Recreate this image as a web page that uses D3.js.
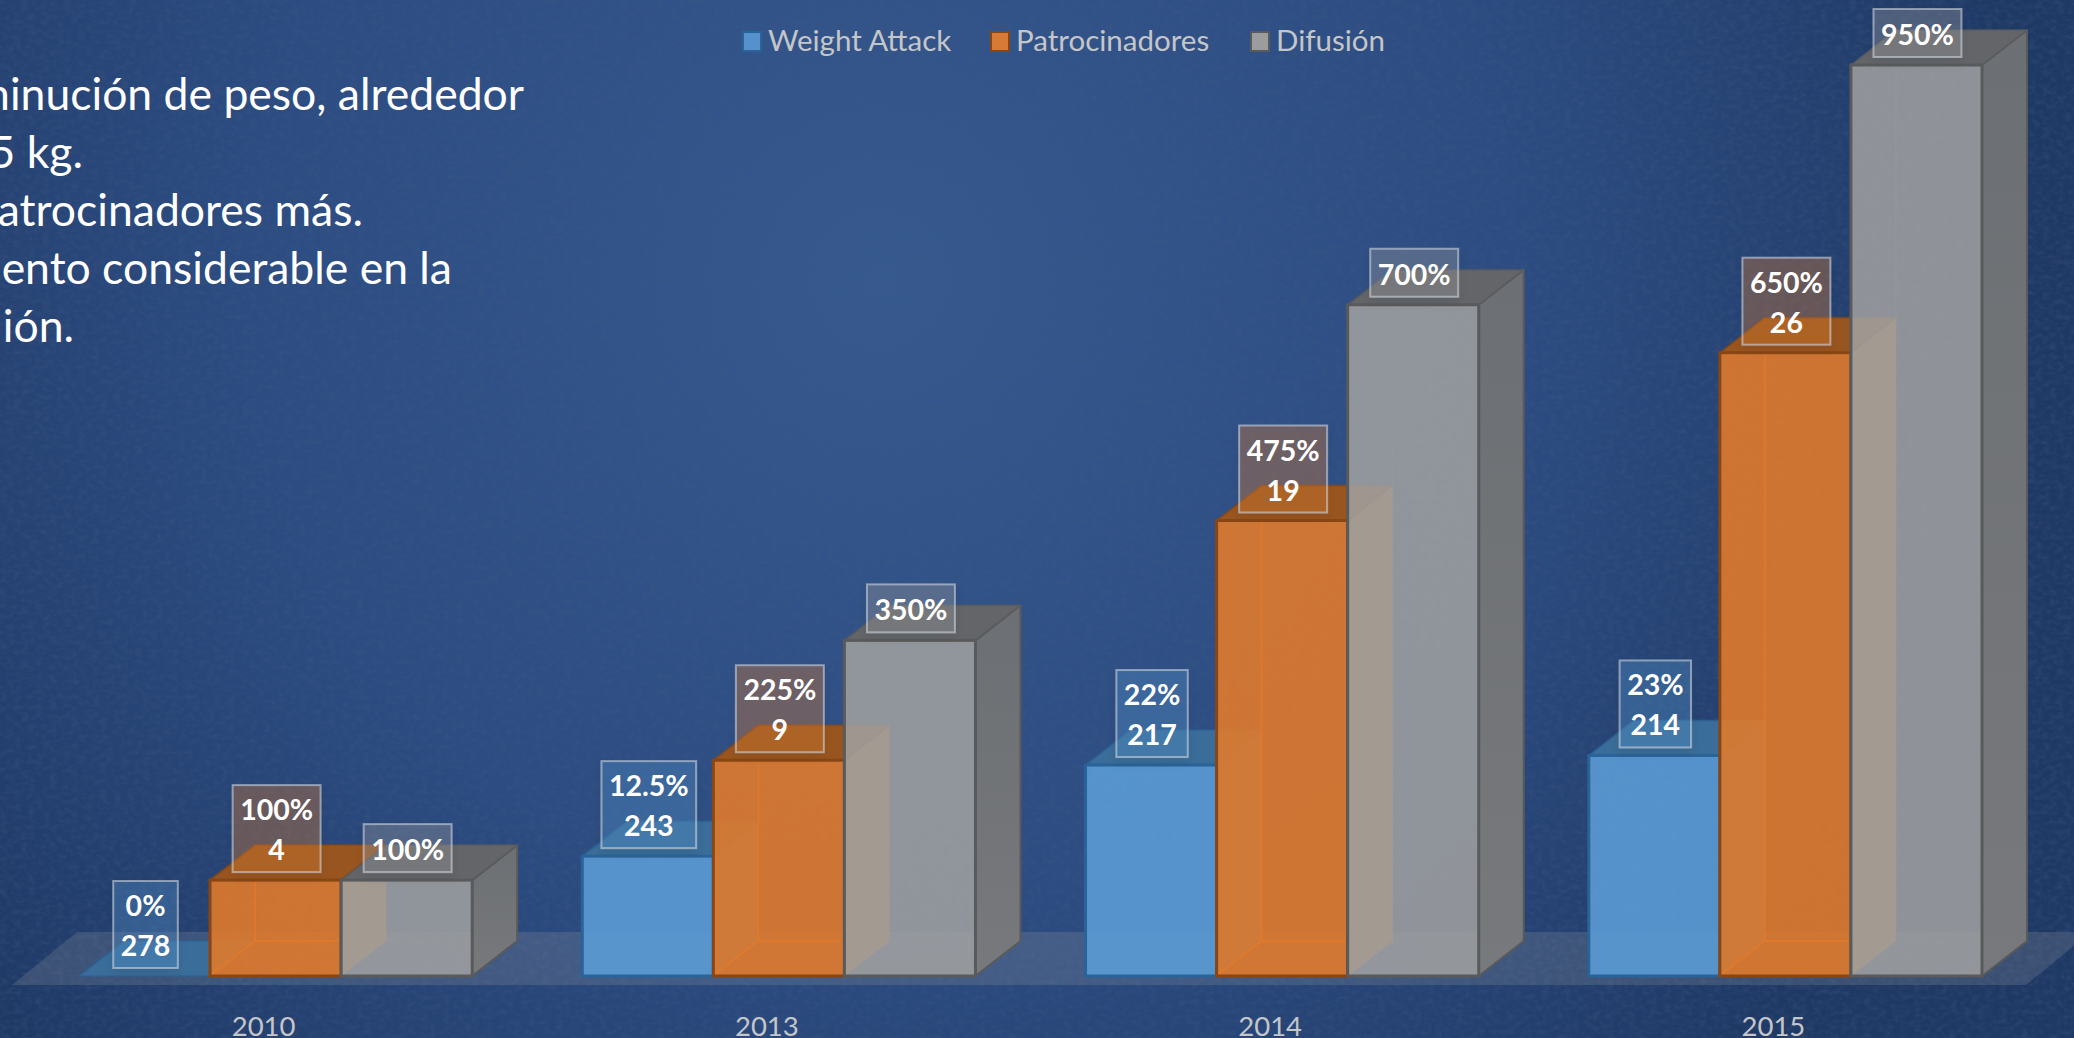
<!DOCTYPE html>
<html>
<head>
<meta charset="utf-8">
<script src="https://cdn.jsdelivr.net/npm/d3@7"></script>
<style>
  html, body { margin: 0; padding: 0; background: #1f3864; overflow: hidden; }
  svg { display: block; font-family: Lato, sans-serif; }
</style>
</head>
<body>
<div id="chart"></div>
<script>
const years = ['2010', '2013', '2014', '2015'];
const seriesNames = ['Weight Attack', 'Patrocinadores', 'Difusión'];

const weightPct = [0, 12.5, 22, 23];
const weightKg = [278, 243, 217, 214];
const sponsorPct = [100, 225, 475, 650];
const sponsorCount = [4, 9, 19, 26];
const reachPct = [100, 350, 700, 950];

const noteLines = [
    'minución de peso, alrededor',
    '5 kg.',
    'atrocinadores más.',
    'ento considerable en la',
    'ión.'
];

const width = 2074, height = 1038;
const depthX = 45, depthY = 35;

const svg = d3.select('#chart').append('svg')
    .attr('width', width)
    .attr('height', height);

const defs = svg.append('defs');

const bgGrad = defs.append('radialGradient')
    .attr('id', 'bg-grad')
    .attr('gradientUnits', 'userSpaceOnUse')
    .attr('cx', 880).attr('cy', 280).attr('r', 1150);
bgGrad.append('stop').attr('offset', '0%').attr('stop-color', '#36598f');
bgGrad.append('stop').attr('offset', '55%').attr('stop-color', '#2c4c82');
bgGrad.append('stop').attr('offset', '100%').attr('stop-color', '#1f3965');

const grain = defs.append('filter').attr('id', 'grain')
    .attr('x', 0).attr('y', 0).attr('width', '100%').attr('height', '100%');
grain.append('feTurbulence')
    .attr('type', 'fractalNoise')
    .attr('baseFrequency', '0.14 0.2')
    .attr('numOctaves', 3)
    .attr('seed', 4);
grain.append('feColorMatrix')
    .attr('values', '0 0 0 0 0.05  0 0 0 0 0.1  0 0 0 0 0.22  1.6 0 0 0 -0.62');

const boxShadow = defs.append('filter').attr('id', 'box-shadow')
    .attr('x', '-30%').attr('y', '-30%').attr('width', '160%').attr('height', '160%');
boxShadow.append('feDropShadow')
    .attr('dx', 0).attr('dy', 5).attr('stdDeviation', 5)
    .attr('flood-color', '#000').attr('flood-opacity', 0.16);

const sideGrad = defs.append('linearGradient')
    .attr('id', 'side-grad').attr('x1', 0).attr('y1', 0).attr('x2', 0).attr('y2', 1);
sideGrad.append('stop').attr('offset', '0%').attr('stop-color', '#6c6f73');
sideGrad.append('stop').attr('offset', '100%').attr('stop-color', '#77797c');

svg.append('rect').attr('width', width).attr('height', height).attr('fill', 'url(#bg-grad)');
svg.append('rect').attr('width', width).attr('height', height)
    .attr('filter', 'url(#grain)').attr('opacity', 0.45);

// scales
const x = d3.scaleBand().domain(years).range([79, 1982]).paddingInner(0.2187);
const xInner = d3.scaleBand().domain(seriesNames).range([0, x.bandwidth()]);
const y = d3.scaleLinear().domain([0, 950]).range([976, 65]);
const yWeight = d3.scaleLinear().domain([0, 95]).range([976, 65]);

const styles = {
    'Weight Attack': { fill: '#5b9bd5', stroke: '#2a6398', side: '#3f78ac', top: '#3a6d99', back: '#5b9bd5', backOpacity: 0.1, mark: '#5592cc' },
    'Patrocinadores': { fill: '#e07a2c', stroke: '#8a4612', side: '#b9733c', top: '#99551f', back: '#e87b28', backOpacity: 0.55, mark: '#d67a36' },
    'Difusión': { fill: '#a0a0a0', stroke: '#595a5b', side: 'url(#side-grad)', top: '#636568', back: '#a8a39c', backOpacity: 0.15, mark: '#9a9c9e' }
};

const bars = [];
years.forEach((year, i) => {
    bars.push({ year, name: seriesNames[0], top: yWeight(weightPct[i]), lines: [weightPct[i] + '%', String(weightKg[i])] });
    bars.push({ year, name: seriesNames[1], top: y(sponsorPct[i]), lines: [sponsorPct[i] + '%', String(sponsorCount[i])] });
    bars.push({ year, name: seriesNames[2], top: y(reachPct[i]), lines: [reachPct[i] + '%'] });
});

const poly = d3.line();

// floor
const floorY = y(0);
svg.append('path')
    .attr('d', poly([[12, floorY + 9], [2026, floorY + 9], [2026 + 65, floorY - 44], [77, floorY - 44]]) + 'Z')
    .attr('fill', '#a8a8a8')
    .attr('fill-opacity', 0.2);

const barG = svg.append('g').selectAll('g')
    .data(bars)
    .join('g');

barG.each(function (d) {
    const g = d3.select(this);
    const s = styles[d.name];
    const x0 = x(d.year) + xInner(d.name);
    const x1 = x0 + xInner.bandwidth();
    const base = y(0);
    const top = d.top;

    // right side
    g.append('path')
        .attr('d', poly([[x1, base], [x1 + depthX, base - depthY], [x1 + depthX, top - depthY], [x1, top]]) + 'Z')
        .attr('fill', s.side)
        .attr('stroke', d.name === 'Difusión' ? s.stroke : 'none')
        .attr('stroke-width', 2)
        .attr('stroke-linejoin', 'round');

    // top
    g.append('path')
        .attr('d', poly([[x0, top], [x1, top], [x1 + depthX, top - depthY], [x0 + depthX, top - depthY]]) + 'Z')
        .attr('fill', s.top)
        .attr('stroke', s.stroke)
        .attr('stroke-opacity', 0.6)
        .attr('stroke-width', 2)
        .attr('stroke-linejoin', 'round');

    // front
    g.append('rect')
        .attr('x', x0)
        .attr('y', top)
        .attr('width', x1 - x0)
        .attr('height', base - top)
        .attr('fill', s.fill)
        .attr('fill-opacity', d.name === 'Difusión' ? 0.87 : 0.9)
        .attr('stroke', s.stroke)
        .attr('stroke-width', 3);

    // back edges seen through the front, only where the front covers them
    if (top < base - depthY) {
        g.append('path')
            .attr('d', poly([[x0 + 2, base - 2], [x0 + depthX, base - depthY], [x0 + depthX, top + 2]]))
            .attr('fill', 'none')
            .attr('stroke', s.back)
            .attr('stroke-opacity', s.backOpacity)
            .attr('stroke-width', 2);
        g.append('path')
            .attr('d', poly([[x0 + depthX, base - depthY], [x1 - 2, base - depthY]]))
            .attr('fill', 'none')
            .attr('stroke', s.back)
            .attr('stroke-opacity', s.backOpacity)
            .attr('stroke-width', 2);
    }
});

// data labels
const labelG = svg.append('g').selectAll('g')
    .data(bars)
    .join('g')
    .attr('transform', d => `translate(${x(d.year) + xInner(d.name) + xInner.bandwidth() / 2 + 1},${d.top - 8})`);

labelG.each(function (d) {
    const g = d3.select(this);
    const boxH = d.lines.length === 2 ? 87 : 48;
    const rect = g.append('rect');
    const texts = g.selectAll('text')
        .data(d.lines)
        .join('text')
        .attr('text-anchor', 'middle')
        .attr('y', (t, i) => -12 - (d.lines.length - 1 - i) * 40)
        .attr('font-size', 28.5)
        .attr('font-weight', 700)
        .attr('fill', '#fff')
        .text(t => t);
    let w = 0;
    texts.each(function () { w = Math.max(w, this.getComputedTextLength()); });
    rect.attr('x', -(w + 15) / 2)
        .attr('y', -boxH)
        .attr('width', w + 15)
        .attr('height', boxH)
        .attr('fill', styles[d.name].mark)
        .attr('fill-opacity', 0.35)
        .attr('stroke', '#ccd3dd')
        .attr('stroke-opacity', 0.6)
        .attr('stroke-width', 2)
        .attr('filter', 'url(#box-shadow)');
});

// year axis
const axis = svg.append('g')
    .attr('transform', 'translate(-12,1000)')
    .call(d3.axisBottom(x).tickSize(0).tickPadding(16));
axis.select('.domain').remove();
axis.selectAll('text')
    .attr('font-size', 27.5)
    .attr('font-family', 'Lato, sans-serif')
    .attr('fill', '#c4c6c9');

// legend
const legendX = d3.scaleOrdinal().domain(seriesNames).range([743, 991, 1251]);
const legend = svg.append('g').selectAll('g')
    .data(seriesNames)
    .join('g')
    .attr('transform', d => `translate(${legendX(d)},32)`);
legend.append('rect')
    .attr('width', 18)
    .attr('height', 19)
    .attr('fill', d => styles[d].mark)
    .attr('stroke', d => styles[d].stroke)
    .attr('stroke-width', 2);
legend.append('text')
    .attr('x', 25)
    .attr('y', 19)
    .attr('font-size', 29.5)
    .attr('fill', '#c4c6c9')
    .text(d => d);

// text block cut by the left edge of the slide
svg.append('g').selectAll('text')
    .data(noteLines)
    .join('text')
    .attr('x', (d, i) => [524, 83, 363, 452, 74][i])
    .attr('y', (d, i) => 110 + i * 58)
    .attr('text-anchor', 'end')
    .attr('font-size', 44.5)
    .attr('fill', '#fff')
    .text(d => d);
</script>
</body>
</html>
